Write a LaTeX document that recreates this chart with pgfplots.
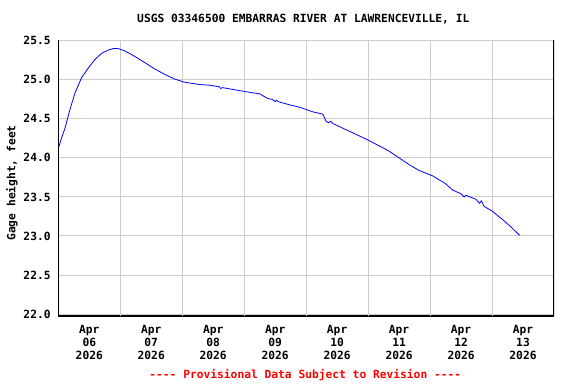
\documentclass[border=0pt]{standalone}
\usepackage{pgfplots}
\pgfplotsset{compat=1.18}
\usepackage{fontspec}
\newfontfamily\usgs{DejaVu Sans Mono}
\newcommand{\uf}{\usgs\bfseries\fontsize{11.3}{12.9}\selectfont}
\definecolor{gridgray}{RGB}{204,204,204}
\begin{document}
\begin{tikzpicture}
\path[use as bounding box, fill=white] (0,0) rectangle (576bp,384bp);
\begin{axis}[
  at={(58.3bp,68bp)}, anchor=south west,
  scale only axis, width=495.7bp, height=276bp,
  xmin=0, xmax=8, ymin=21.975, ymax=25.51,
  axis x line*=bottom, axis y line*=left,
  axis line style={black, line width=1.2bp},
  xtick={0.5,1.5,2.5,3.5,4.5,5.5,6.5,7.5},
  xticklabels={{Apr\\06\\2026},{Apr\\07\\2026},{Apr\\08\\2026},{Apr\\09\\2026},{Apr\\10\\2026},{Apr\\11\\2026},{Apr\\12\\2026},{Apr\\13\\2026}},
  extra x ticks={1,2,3,4,5,6,7},
  extra x tick labels={},
  extra x tick style={grid=major, major grid style={gridgray, line width=1bp}},
  ytick={22,22.5,23,23.5,24,24.5,25,25.5},
  ymajorgrids, major grid style={gridgray, line width=1bp},
  major tick length=0pt,
  /pgf/number format/assume math mode=true,
  /pgf/number format/.cd, fixed, fixed zerofill, precision=1, /pgfplots/.cd,
  yticklabel style={font=\uf, anchor=east, inner sep=0pt, xshift=-7.5bp},
  xticklabel style={font=\uf, anchor=north, align=center, inner sep=0pt, yshift=-9.5bp},
]
\addplot[color={rgb,255:red,0;green,0;blue,255}, line width=0.8bp, mark=none] coordinates {
(0.000,24.12) (0.05,24.25) (0.108,24.38) (0.188,24.62) (0.269,24.83) (0.377,25.03)
(0.483,25.15) (0.591,25.26) (0.699,25.34) (0.805,25.38) (0.886,25.40) (0.966,25.40)
(1.074,25.37) (1.235,25.30) (1.396,25.22) (1.556,25.14) (1.717,25.07) (1.878,25.01)
(2.029,24.97) (2.28,24.94) (2.45,24.93) (2.60,24.91) (2.62,24.89) (2.65,24.90)
(3.01,24.85) (3.25,24.82) (3.38,24.76) (3.45,24.75) (3.50,24.72) (3.52,24.74)
(3.55,24.72) (3.73,24.68) (3.89,24.65) (4.106,24.59) (4.27,24.56) (4.32,24.47)
(4.36,24.45) (4.40,24.47) (4.43,24.44) (4.70,24.34) (4.97,24.24) (5.26,24.12)
(5.35,24.08) (5.67,23.91) (5.82,23.84) (6.04,23.77) (6.25,23.67) (6.36,23.59)
(6.50,23.54) (6.55,23.50) (6.58,23.52) (6.74,23.47) (6.80,23.42) (6.83,23.45)
(6.87,23.38) (7.0,23.32) (7.17,23.21) (7.30,23.12) (7.43,23.02) (7.45,23.01)
};
\draw[black, line width=1.2bp] (rel axis cs:1,0) -- (rel axis cs:1,1);
\end{axis}
\node[font=\uf] at (303.3bp,365bp) {USGS 03346500 EMBARRAS RIVER AT LAWRENCEVILLE, IL};
\node[font=\uf, rotate=90] at (12bp,201bp) {Gage height, feet};
\node[font=\uf, text={rgb,255:red,255;green,0;blue,0}] at (305.3bp,9bp) {---- Provisional Data Subject to Revision ----};
\end{tikzpicture}
\end{document}
